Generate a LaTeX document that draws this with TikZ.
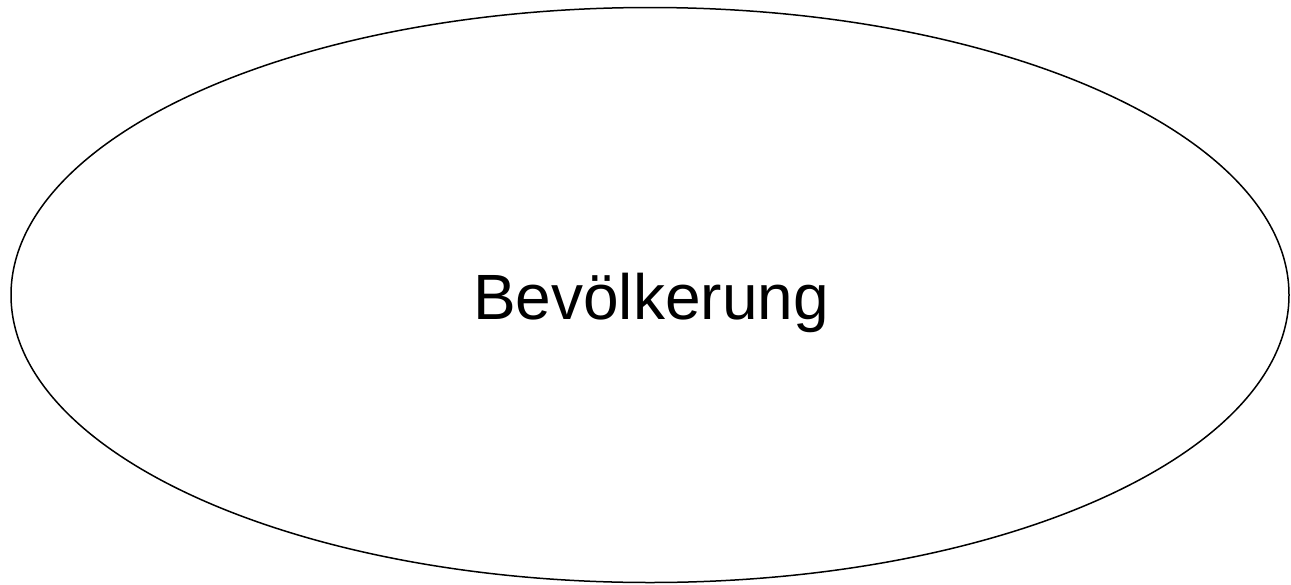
\documentclass[tikz,border=0pt]{standalone}
\usepackage{fontspec}
\setmainfont{Liberation Sans}
\usetikzlibrary{shapes.geometric}

\begin{document}
\begin{tikzpicture}[x=1pt, y=1pt]

    % Moldura da figura
    \useasboundingbox (0,0) rectangle (1291,-584);

    % Elipse da população
    \node[draw, ellipse, line width=1.5pt, inner sep=0pt,
          minimum width=1278pt, minimum height=575pt] (elipse) at (650,-295) {};

    % Rótulo
    \node[font=\fontsize{64}{77}\selectfont, anchor=base] (rotulo) at (651,-319) {Bevölkerung};

\end{tikzpicture}
\end{document}
